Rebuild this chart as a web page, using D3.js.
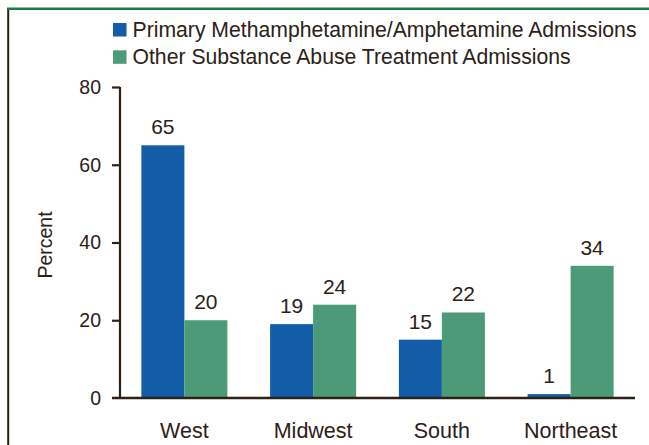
<!DOCTYPE html>
<html>
<head>
<meta charset="utf-8">
<script src="https://cdn.jsdelivr.net/npm/d3@7"></script>
<style>
  html, body { margin: 0; padding: 0; background: #fff; }
  svg { display: block; font-family: "Liberation Sans", Arial, Helvetica, sans-serif; }
</style>
</head>
<body>
<svg id="chart" width="649" height="445"></svg>
<script>
// Regions and admission shares (percent)
const regions = ["West", "Midwest", "South", "Northeast"];
const seriesNames = [
  "Primary Methamphetamine/Amphetamine Admissions",
  "Other Substance Abuse Treatment Admissions"
];
const methValues = [65, 19, 15, 1];
const otherValues = [20, 24, 22, 34];
const yTicks = [0, 20, 40, 60, 80];

const colors = ["#135ca8", "#4d9a78"];
const ink = "#2b2116";

const svg = d3.select("#chart");

// Frame: green rule across the top, dark rule down the left
svg.append("line").attr("x1", 7).attr("x2", 649).attr("y1", 8.8).attr("y2", 8.8)
  .attr("stroke", "#1b7a4c").attr("stroke-width", 2.6);
svg.append("line").attr("x1", 8.2).attr("x2", 8.2).attr("y1", 10).attr("y2", 445)
  .attr("stroke", ink).attr("stroke-width", 2);

const x0 = d3.scaleBand().domain(regions).range([120, 635])
  .paddingInner(0.332).paddingOuter(0.166);
const x1 = d3.scaleBand().domain([0, 1]).range([0, x0.bandwidth()]);
const y = d3.scaleLinear().domain([0, 80]).range([398, 87]);

// Bars
const rows = regions.map((r, i) => ({ region: r, values: [methValues[i], otherValues[i]] }));
const groups = svg.append("g").selectAll("g").data(rows).join("g")
  .attr("transform", d => `translate(${x0(d.region)},0)`);

groups.selectAll("rect").data(d => d.values.map((v, k) => ({ v, k })))
  .join("rect")
  .attr("x", d => x1(d.k))
  .attr("width", x1.bandwidth())
  .attr("y", d => y(d.v))
  .attr("height", d => y(0) - y(d.v))
  .attr("fill", d => colors[d.k]);

groups.selectAll("text").data(d => d.values.map((v, k) => ({ v, k })))
  .join("text")
  .attr("x", d => x1(d.k) + x1.bandwidth() / 2)
  .attr("y", d => y(d.v) - 11)
  .attr("text-anchor", "middle")
  .attr("font-size", 21)
  .attr("fill", ink)
  .text(d => d.v);

// Y axis
const yAxis = d3.axisLeft(y).tickValues(yTicks).tickSize(8).tickPadding(11).tickSizeOuter(0);
const gy = svg.append("g").attr("transform", "translate(120,0)").call(yAxis);
gy.select(".domain").attr("stroke", ink).attr("stroke-width", 2.2)
  .attr("d", `M0,${y(80)}V${y(0)}`);
gy.selectAll(".tick line").attr("stroke", ink).attr("stroke-width", 2.2);
gy.selectAll(".tick text").attr("fill", ink).attr("font-size", 19.5)
  .attr("font-family", "Liberation Sans, Arial, sans-serif");
// the zero tick sits under the baseline drawn below
gy.selectAll(".tick").filter(d => d === 0).select("line").attr("stroke-opacity", 0);

// X axis baseline and category labels
svg.append("line").attr("x1", 112).attr("x2", 635).attr("y1", y(0)).attr("y2", y(0))
  .attr("stroke", ink).attr("stroke-width", 2.6);
const xAxis = d3.axisBottom(x0).tickSize(0).tickPadding(0);
const gx = svg.append("g").attr("transform", "translate(0,437.5)").call(xAxis);
gx.select(".domain").remove();
gx.selectAll(".tick text").attr("dy", 0).attr("fill", ink).attr("font-size", 21.5)
  .attr("font-family", "Liberation Sans, Arial, sans-serif");

// Y title
svg.append("text")
  .attr("transform", "translate(51.5,245) rotate(-90)")
  .attr("text-anchor", "middle")
  .attr("font-size", 19.5)
  .attr("fill", ink)
  .text("Percent");

// Legend
const legend = svg.append("g").selectAll("g").data(seriesNames).join("g")
  .attr("transform", (d, i) => `translate(113,${23 + i * 27.3})`);
legend.append("rect").attr("width", 13.5).attr("height", 13.5)
  .attr("fill", (d, i) => colors[i]);
legend.append("text").attr("x", 19.5).attr("y", 13.5)
  .attr("font-size", 21.2).attr("fill", ink).text(d => d);
</script>
</body>
</html>
